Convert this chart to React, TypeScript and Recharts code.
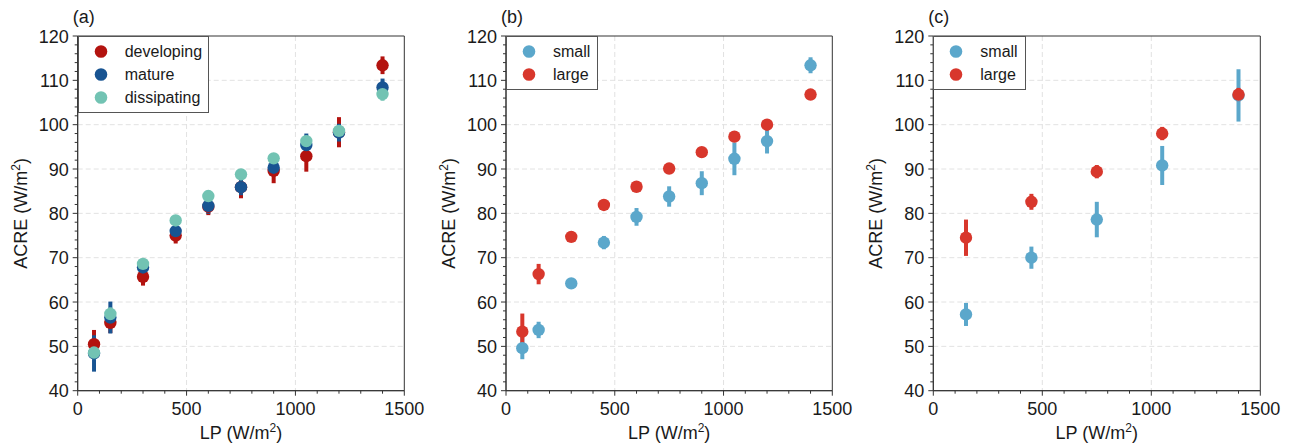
import React from 'react';
import { ScatterChart, Scatter, XAxis, YAxis, CartesianGrid, ErrorBar, ReferenceArea, Legend } from 'recharts';

// ---------- data ----------
const lpA = [75, 150, 300, 450, 600, 750, 900, 1050, 1200, 1400];
const developing = [50.5, 55.3, 65.7, 75.0, 81.5, 85.9, 89.6, 92.9, 98.3, 113.4];
const developingErr = [3.2, 2.3, 2.0, 1.8, 1.9, 2.5, 2.8, 3.5, 3.4, 2.0];
const mature = [48.4, 56.5, 67.8, 76.0, 81.7, 85.9, 90.3, 95.4, 98.2, 108.4];
const matureErr = [4.1, 3.6, 1.5, 1.8, 1.8, 1.8, 1.5, 2.6, 2.0, 2.0];
const dissipating = [48.6, 57.3, 68.6, 78.4, 83.9, 88.8, 92.4, 96.3, 98.6, 106.9];
const dissipatingErr = [1.5, 1.5, 1.0, 1.0, 1.0, 1.0, 1.0, 1.2, 1.2, 1.5];

const lpB = [75, 150, 300, 450, 600, 750, 900, 1050, 1200, 1400];
const smallB = [49.6, 53.7, 64.2, 73.4, 79.2, 83.8, 86.8, 92.3, 96.3, 113.4];
const smallBErr = [2.5, 1.85, 1.2, 1.5, 2.0, 2.3, 2.7, 3.7, 2.8, 1.8];
const largeB = [53.3, 66.3, 74.7, 81.9, 86.0, 90.1, 93.8, 97.3, 100.0, 106.8];
const largeBErr = [4.1, 2.3, 0.8, 0.8, 0.8, 0.8, 0.8, 0.8, 0.8, 0.8];

const lpC = [150, 450, 750, 1050, 1400];
const smallC = [57.2, 70.0, 78.6, 90.8, 106.6];
const smallCErr = [2.6, 2.5, 4.0, 4.4, 5.9];
const largeC = [74.5, 82.6, 89.4, 98.0, 106.8];
const largeCErr = [4.1, 1.8, 1.5, 1.5, 1.5];

const xTicks = [0, 100, 200, 300, 400, 500, 600, 700, 800, 900, 1000, 1100, 1200, 1300, 1400, 1500];
const yTicks = [40, 42, 44, 46, 48, 50, 52, 54, 56, 58, 60, 62, 64, 66, 68, 70, 72, 74, 76, 78, 80, 82, 84, 86, 88, 90, 92, 94, 96, 98, 100, 102, 104, 106, 108, 110, 112, 114, 116, 118, 120];
const xGrid = [500, 1000];
const yGrid = [50, 60, 70, 80, 90, 100, 110];

const C_DEV = '#b3130f';
const C_MAT = '#185492';
const C_DIS = '#72c3b3';
const C_SMALL = '#5ba7cb';
const C_LARGE = '#d8372c';

const FONT = '"Liberation Sans", Arial, Helvetica, sans-serif';
const AXIS = '#333';

const toRows = (xs: number[], ys: number[], es: number[]) => xs.map((x, i) => ({ x, y: ys[i], e: es[i] }));

// ---------- pieces ----------
const XTick = (props: any) => {
  const { x, y, payload } = props;
  const v = payload.value;
  const major = v % 500 === 0;
  return (
    <g>
      <line x1={x} x2={x} y1={y} y2={y + (major ? 5 : 3)} stroke={AXIS} strokeWidth={1} />
      {major && (
        <text x={x} y={y + 24} textAnchor="middle" fontSize={18} fill="#1a1a1a" fontFamily={FONT}>
          {v}
        </text>
      )}
    </g>
  );
};

const YTick = (props: any) => {
  const { x, y, payload } = props;
  const v = payload.value;
  const major = v % 10 === 0;
  return (
    <g>
      <line x1={x} x2={x - (major ? 5 : 3)} y1={y} y2={y} stroke={AXIS} strokeWidth={1} />
      {major && (
        <text x={x - 9} y={y + 6.5} textAnchor="end" fontSize={18} fill="#1a1a1a" fontFamily={FONT}>
          {v}
        </text>
      )}
    </g>
  );
};

const XLabel = (props: any) => {
  const vb = props.viewBox || {};
  const cx = vb.x + vb.width / 2;
  const cy = vb.y + 48;
  return (
    <text x={cx} y={cy} textAnchor="middle" fontSize={18} fill="#1a1a1a" fontFamily={FONT}>
      LP (W/m
      <tspan fontSize={12} dy={-7}>2</tspan>
      <tspan dy={7}>)</tspan>
    </text>
  );
};

const YLabel = (props: any) => {
  const vb = props.viewBox || {};
  const cx = vb.x + vb.width - 51;
  const cy = vb.y + vb.height / 2;
  return (
    <text
      x={cx}
      y={cy}
      transform={`rotate(-90, ${cx}, ${cy})`}
      textAnchor="middle"
      fontSize={18}
      fill="#1a1a1a"
      fontFamily={FONT}
    >
      ACRE (W/m
      <tspan fontSize={12} dy={-7}>2</tspan>
      <tspan dy={7}>)</tspan>
    </text>
  );
};

const Dot = (color: string) => (props: any) => <circle cx={props.cx} cy={props.cy} r={6.2} fill={color} />;

type Item = { name: string; color: string };

const LegendBox = ({ items, width }: { items: Item[]; width: number }) => (
  <div
    style={{
      width,
      height: items.length * 23 + 8,
      boxSizing: 'border-box',
      border: '1px solid #555',
      background: '#fff',
      position: 'relative',
      fontFamily: FONT,
      fontSize: 16,
      color: '#1a1a1a',
    }}
  >
    {items.map((it, i) => (
      <div
        key={it.name}
        style={{ position: 'absolute', left: 0, top: 3 + i * 22.8, height: 23, display: 'flex', alignItems: 'center' }}
      >
        <svg width={46} height={23} style={{ display: 'block' }}>
          <circle cx={22} cy={11.5} r={6.3} fill={it.color} />
        </svg>
        <span style={{ lineHeight: '23px', whiteSpace: 'nowrap' }}>{it.name}</span>
      </div>
    ))}
  </div>
);

type Series = { name: string; color: string; xs: number[]; ys: number[]; es: number[] };

const Panel = ({
  left,
  plotLeft,
  plotRight,
  tag,
  series,
  legendWidth,
}: {
  left: number;
  plotLeft: number;
  plotRight: number;
  tag: string;
  series: Series[];
  legendWidth: number;
}) => {
  const W = 430;
  const H = 447;
  const top = 36;
  const bottom = 390.7;
  const yAxisW = plotLeft;
  return (
    <div style={{ position: 'absolute', left, top: 0, width: W, height: H }}>
      <div
        style={{
          position: 'absolute',
          left: plotLeft - 5,
          top: 7.8,
          fontSize: 18,
          lineHeight: '18px',
          fontFamily: FONT,
          color: '#1a1a1a',
          zIndex: 2,
        }}
      >
        {tag}
      </div>
      <ScatterChart
        width={W}
        height={H}
        margin={{ top, right: W - plotRight, bottom: H - bottom - 30, left: 0 }}
      >
        <CartesianGrid
          stroke="#e2e2e2"
          strokeDasharray="5 3"
          horizontalValues={yGrid}
          verticalValues={xGrid}
        />
        <XAxis
          type="number"
          dataKey="x"
          domain={[0, 1500]}
          ticks={xTicks}
          interval={0}
          allowDataOverflow
          height={30}
          tickSize={0}
          tickMargin={0}
          tickLine={false}
          tick={<XTick />}
          axisLine={{ stroke: AXIS, strokeWidth: 1 }}
          label={<XLabel />}
        />
        <YAxis
          type="number"
          dataKey="y"
          domain={[40, 120]}
          ticks={yTicks}
          interval={0}
          allowDataOverflow
          width={yAxisW}
          tickSize={0}
          tickMargin={0}
          tickLine={false}
          tick={<YTick />}
          axisLine={{ stroke: AXIS, strokeWidth: 1 }}
          label={<YLabel />}
        />
        <ReferenceArea x1={0} x2={1500} y1={40} y2={120} fill="none" stroke={AXIS} strokeWidth={1} />
        {series.map((s) => (
          <Scatter
            key={s.name}
            name={s.name}
            data={toRows(s.xs, s.ys, s.es)}
            fill={s.color}
            shape={Dot(s.color)}
            isAnimationActive={false}
          >
            <ErrorBar dataKey="e" direction="y" width={0} strokeWidth={4} stroke={s.color} isAnimationActive={false} />
          </Scatter>
        ))}
        <Legend
          layout="horizontal"
          align="center"
          verticalAlign="middle"
          wrapperStyle={{ left: plotLeft, top, width: legendWidth, height: 'auto' }}
          content={() => <LegendBox items={series.map((s) => ({ name: s.name, color: s.color }))} width={legendWidth} />}
        />
      </ScatterChart>
    </div>
  );
};

export default function App() {
  const seriesA: Series[] = [
    { name: 'developing', color: C_DEV, xs: lpA, ys: developing, es: developingErr },
    { name: 'mature', color: C_MAT, xs: lpA, ys: mature, es: matureErr },
    { name: 'dissipating', color: C_DIS, xs: lpA, ys: dissipating, es: dissipatingErr },
  ];
  const seriesB: Series[] = [
    { name: 'small', color: C_SMALL, xs: lpB, ys: smallB, es: smallBErr },
    { name: 'large', color: C_LARGE, xs: lpB, ys: largeB, es: largeBErr },
  ];
  const seriesC: Series[] = [
    { name: 'small', color: C_SMALL, xs: lpC, ys: smallC, es: smallCErr },
    { name: 'large', color: C_LARGE, xs: lpC, ys: largeC, es: largeCErr },
  ];
  return (
    <div style={{ position: 'absolute', left: 0, top: 0, width: 1293, height: 447, background: '#fff' }}>
      <Panel left={0} plotLeft={77.7} plotRight={404.3} tag="(a)" series={seriesA} legendWidth={131} />
      <Panel left={430} plotLeft={76} plotRight={402.3} tag="(b)" series={seriesB} legendWidth={92} />
      <Panel left={860} plotLeft={73.3} plotRight={400.3} tag="(c)" series={seriesC} legendWidth={93} />
    </div>
  );
}
